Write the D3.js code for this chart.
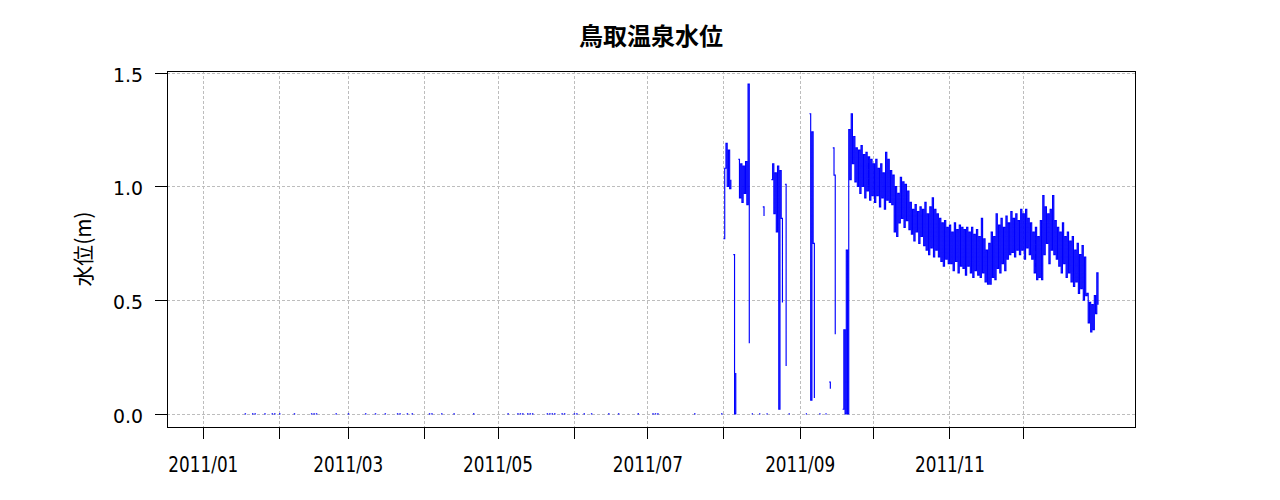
<!DOCTYPE html>
<html><head><meta charset="utf-8">
<script src="https://cdn.jsdelivr.net/npm/d3@7"></script>
<style>
html,body{margin:0;padding:0;background:#fff;}
svg{display:block;}
</style></head>
<body>
<script>
// ---------- data ----------
const chartTitle = "鳥取温泉水位";
const yTitle = "水位(m)";
const yTicks = [0, 0.5, 1.0, 1.5];
const yTickLabels = ["0.0", "0.5", "1.0", "1.5"];
const xTickMonths = ["2011-01","2011-02","2011-03","2011-04","2011-05","2011-06","2011-07","2011-08","2011-09","2011-10","2011-11","2011-12"];
const xTickLabels = ["2011/01","","2011/03","","2011/05","","2011/07","","2011/09","","2011/11",""];

// Jan–Jul: days (offset from 2011-01-01) with short zero readings
const zeroDays = [17,20,21,25,28,29,31,37,44,45,46,54,59,66,70,74,79,80,83,85,92,93,97,102,110,124,128,129,130,132,133,134,140,141,142,143,146,147,151,152,155,158,165,169,177,183,184,185,200,211];

// Aug–Dec: two readings per day (00h, 12h), null = missing
const augLevel = [0.77,1.08, 1.19,1.00, 1.16,0.99, 1.03,null, 0.70,0.00, 0.18,null, 1.12,0.95, 1.10,0.93, 1.09,0.97, 1.11,0.92,
  1.45,0.31, null,0, 0,null, null,null, null,0, 0,null, 0.91,0.87, null,0, 0,null, null,1.03,
  1.10,0.88, 1.06,0.80, 1.09,0.02, 1.07,0.86, 0.49,null, 1.01,0.21, null,0, 0,null, null,null, null,null, null,null];
const sepLevel = [null,null, null,null, null,0, 0,null, 1.32,0.06, 1.24,0.75, 0.07,null, null,null, 0,0, null,null,
  null,0, 0,null, 0.14,0.11, null,1.17, 1.05,0.35, null,null, null,null, null,0.02, 0.37,0.00, 0.72,0.00,
  1.25,1.03, 1.32,1.10, 1.22,1.02, 1.17,1.00, 1.16,0.97, 1.18,1.00, 1.14,0.95, 1.15,0.98, 1.13,0.94, 1.12,0.96];
const octLevel = [1.10,0.93, 1.12,0.96, 1.08,0.91, 1.10,0.95, 1.06,0.90, 1.15,0.94, 1.12,0.93, 1.07,0.92, 1.05,0.80, 1.00,0.78,
  0.97,0.84, 1.04,0.86, 1.02,0.82, 1.01,0.85, 0.98,0.81, 0.93,0.79, 0.90,0.76, 0.92,0.80, 0.89,0.75, 0.91,0.78,
  0.90,0.74, 0.93,0.72, 0.88,0.70, 0.91,0.73, 0.95,0.69, 0.90,0.72, 0.88,0.69, 0.86,0.67, 0.84,0.65, 0.85,0.68, 0.82,0.66];
const novLevel = [0.83,0.66, 0.80,0.63, 0.84,0.67, 0.81,0.62, 0.83,0.65, 0.82,0.64, 0.81,0.61, 0.82,0.65, 0.80,0.62, 0.82,0.60,
  0.79,0.63, 0.81,0.61, 0.78,0.60, 0.86,0.62, 0.77,0.58, 0.72,0.57, 0.75,0.57, 0.80,0.60, 0.78,0.59, 0.88,0.64,
  0.83,0.62, 0.86,0.66, 0.82,0.63, 0.87,0.68, 0.84,0.70, 0.89,0.71, 0.86,0.69, 0.88,0.72, 0.85,0.70, 0.90,0.72];
const decLevel = [0.88,0.68, 0.90,0.73, 0.86,0.70, 0.84,0.68, 0.80,0.62, 0.82,0.59, 0.78,0.60, 0.85,0.59, 0.96,0.70, 0.91,0.75,
  0.88,0.66, 0.90,0.72, 0.96,0.70, 0.85,0.68, 0.82,0.65, 0.80,0.62, 0.84,0.66, 0.78,0.60, 0.80,0.62, 0.76,0.58,
  0.78,0.56, 0.72,0.58, 0.75,0.53, 0.70,0.55, 0.74,0.50, 0.69,0.52, 0.53,0.40, 0.49,0.36, 0.48,0.37, 0.52,0.44, 0.62,0.48];

// ---------- build series ----------
const DAY = 86400000;
const t0 = Date.UTC(2011, 0, 1);
const series = [];
zeroDays.forEach(d => {
  series.push({t: new Date(t0 + d*DAY), v: 0});
  series.push({t: new Date(t0 + (d+0.6)*DAY), v: 0});
  series.push({t: new Date(t0 + (d+0.7)*DAY), v: null});
});
const lateLevel = [].concat(augLevel, sepLevel, octLevel, novLevel, decLevel);
const augStart = Date.UTC(2011, 7, 1);
lateLevel.forEach((v, i) => series.push({t: new Date(augStart + i*0.5*DAY), v: v}));

// ---------- layout ----------
const W = 1280, H = 500;
const L = 167, R = 1135, T = 71, B = 427;

const svg = d3.select("body").append("svg").attr("width", W).attr("height", H);

const dataStart = new Date(t0), dataEnd = new Date(Date.UTC(2011, 11, 31, 23));
const span = dataEnd - dataStart;
const x = d3.scaleUtc()
  .domain([new Date(+dataStart - 0.04*span), new Date(+dataEnd + 0.04*span)])
  .range([L, R]);
const yMin = 0, yMax = 1.45, ySpan = yMax - yMin;
const y = d3.scaleLinear()
  .domain([yMin - 0.04*ySpan, yMax + 0.04*ySpan])
  .range([B, T]);

const monthDates = xTickMonths.map(s => { const [yy, mm] = s.split("-").map(Number); return new Date(Date.UTC(yy, mm-1, 1)); });

// grid
const grid = svg.append("g").attr("stroke", "#bdbdbd").attr("stroke-width", 1).attr("stroke-dasharray", "3,2").attr("shape-rendering", "crispEdges");
grid.selectAll("line.v").data(monthDates).join("line")
  .attr("x1", d => Math.round(x(d)) + 0.5).attr("x2", d => Math.round(x(d)) + 0.5)
  .attr("y1", T).attr("y2", B);
grid.selectAll("line.h").data(yTicks).join("line")
  .attr("y1", d => Math.round(y(d)) + 0.5).attr("y2", d => Math.round(y(d)) + 0.5)
  .attr("x1", L).attr("x2", R);

// data line
const line = d3.line().defined(d => d.v !== null).x(d => x(d.t)).y(d => y(d.v)).curve(d3.curveStepAfter);
svg.append("path").datum(series)
  .attr("d", line).attr("fill", "none").attr("stroke", "#0000ff").attr("stroke-width", 1.15);

// box
svg.append("rect").attr("x", L + 0.5).attr("y", T + 0.5).attr("width", R - L).attr("height", B - T)
  .attr("fill", "none").attr("stroke", "#000").attr("stroke-width", 1).attr("shape-rendering", "crispEdges");

// x axis
const xAxis = d3.axisBottom(x).tickValues(monthDates)
  .tickFormat((d, i) => xTickLabels[i]).tickSize(12).tickSizeOuter(0);
const gx = svg.append("g").attr("transform", `translate(0,${B})`).call(xAxis);
gx.select(".domain").remove();
gx.selectAll(".tick line").attr("stroke", "#000").attr("shape-rendering", "crispEdges");
gx.selectAll(".tick text")
  .attr("font-family", "DejaVu Sans").attr("font-size", 22).attr("fill", "#000")
  .attr("dy", null).attr("y", 45)
  .each(function(d, i) { if (xTickLabels[i]) d3.select(this).attr("textLength", 70).attr("lengthAdjust", "spacingAndGlyphs"); });

// y axis
const yAxis = d3.axisLeft(y).tickValues(yTicks)
  .tickFormat((d, i) => yTickLabels[i]).tickSize(12).tickSizeOuter(0);
const gy = svg.append("g").attr("transform", `translate(${L},0)`).call(yAxis);
gy.select(".domain").remove();
gy.selectAll(".tick line").attr("stroke", "#000").attr("shape-rendering", "crispEdges");
gy.selectAll(".tick text")
  .attr("font-family", "DejaVu Sans").attr("font-size", 20).attr("fill", "#000")
  .attr("dy", null).attr("x", -24).attr("y", 8.5)
  .attr("textLength", 30).attr("lengthAdjust", "spacingAndGlyphs");

// y title
svg.append("text")
  .attr("transform", `translate(91,${(T + B)/2}) rotate(-90)`)
  .attr("text-anchor", "middle")
  .attr("font-family", "Noto Sans CJK JP").attr("font-size", 21)
  .attr("textLength", 75).attr("lengthAdjust", "spacingAndGlyphs")
  .text(yTitle);

// title
svg.append("text")
  .attr("x", (L + R)/2).attr("y", 45)
  .attr("text-anchor", "middle")
  .attr("font-family", "Noto Sans CJK JP").attr("font-weight", "bold").attr("font-size", 24)
  .text(chartTitle);
</script>
</body></html>
